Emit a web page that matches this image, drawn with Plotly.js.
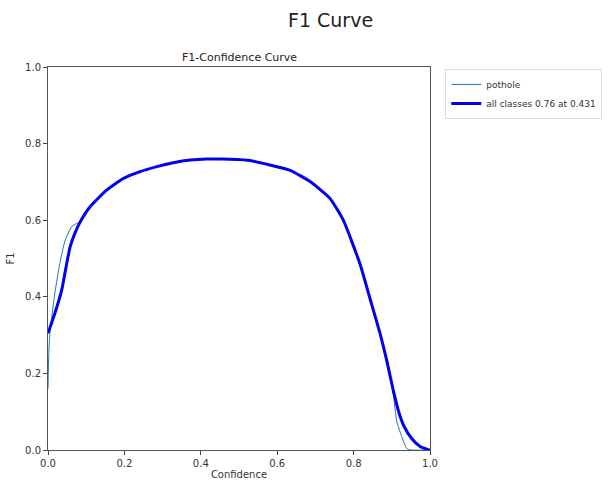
<!DOCTYPE html>
<html>
<head>
<meta charset="utf-8">
<script src="https://cdn.plot.ly/plotly-3.0.1.min.js"></script>
<style>html,body{margin:0;padding:0;background:#fff;}#chart{width:614px;height:484px;}</style>
</head>
<body>
<div id="chart"></div>
<script>
// Data
const allConf = [0, 0.018, 0.036, 0.049, 0.058, 0.07, 0.084, 0.11, 0.154, 0.197, 0.241, 0.285, 0.328, 0.372, 0.415, 0.431, 0.476, 0.529, 0.581, 0.634, 0.686, 0.738, 0.773, 0.817, 0.843, 0.869, 0.888, 0.904, 0.918, 0.932, 0.952, 0.974, 0.995, 1.0];
const allF1   = [0.305, 0.357, 0.418, 0.487, 0.531, 0.565, 0.595, 0.635, 0.679, 0.709, 0.727, 0.740, 0.750, 0.757, 0.760, 0.760, 0.759, 0.756, 0.744, 0.730, 0.701, 0.657, 0.600, 0.485, 0.395, 0.305, 0.228, 0.155, 0.10, 0.062, 0.03, 0.009, 0.001, 0.0];

const potConf = [0, 0.002, 0.005, 0.018, 0.031, 0.045, 0.062, 0.084, 0.11, 0.154, 0.197, 0.241, 0.285, 0.328, 0.372, 0.415, 0.431, 0.476, 0.529, 0.581, 0.634, 0.686, 0.738, 0.773, 0.817, 0.843, 0.869, 0.888, 0.904, 0.913, 0.926, 0.939, 0.95, 1.0];
const potF1   = [0.16, 0.25, 0.305, 0.41, 0.487, 0.548, 0.583, 0.597, 0.635, 0.679, 0.709, 0.727, 0.740, 0.750, 0.757, 0.760, 0.760, 0.759, 0.756, 0.744, 0.730, 0.701, 0.657, 0.600, 0.485, 0.395, 0.305, 0.228, 0.145, 0.075, 0.035, 0.004, 0.0, 0.0];

const seriesNames = ['pothole', 'all classes 0.76 at 0.431'];
const tickVals = [0, 0.2, 0.4, 0.6, 0.8, 1.0];
const tickText = ['0.0', '0.2', '0.4', '0.6', '0.8', '1.0'];

const traces = [
  {x: potConf, y: potF1, name: seriesNames[0], mode: 'lines', line: {color: '#1f77b4', width: 1, shape: 'spline', smoothing: 0.5}},
  {x: allConf, y: allF1, name: seriesNames[1], mode: 'lines', line: {color: '#0000ee', width: 3, shape: 'spline', smoothing: 0.5}}
];

const axisCommon = {
  range: [0, 1], tickvals: tickVals, ticktext: tickText,
  ticks: 'outside', ticklen: 4, tickwidth: 1, tickcolor: '#444',
  showline: true, linecolor: '#555', linewidth: 1, mirror: true,
  showgrid: false, zeroline: false,
  tickfont: {size: 10, color: '#333'}
};

const layout = {
  width: 614, height: 484,
  paper_bgcolor: '#fff', plot_bgcolor: '#fff',
  font: {family: 'DejaVu Sans, sans-serif', color: '#222'},
  margin: {l: 48, r: 184, t: 67, b: 34, autoexpand: false},
  xaxis: Object.assign({}, axisCommon, {title: {text: 'Confidence', font: {size: 10, color: '#333'}, standoff: 2}}),
  yaxis: Object.assign({}, axisCommon, {title: {text: 'F1', font: {size: 10, color: '#333'}, standoff: 8}}),
  showlegend: true,
  legend: {x: 1.04, y: 0.995, xanchor: 'left', yanchor: 'top', bgcolor: '#fff', bordercolor: '#ddd', borderwidth: 1, font: {size: 9, color: '#333'}, tracegroupgap: 0, itemwidth: 30},
  annotations: [
    {text: 'F1 Curve', xref: 'paper', yref: 'paper', x: (330 - 48) / 382, y: (450 - 20) / 383, xanchor: 'center', yanchor: 'middle', showarrow: false, font: {size: 19, color: '#222'}},
    {text: 'F1-Confidence Curve', xref: 'paper', yref: 'paper', x: 0.5, y: (450 - 57) / 383, xanchor: 'center', yanchor: 'middle', showarrow: false, font: {size: 11, color: '#222'}}
  ]
};

Plotly.newPlot('chart', traces, layout, {displayModeBar: false, staticPlot: true});
</script>
</body>
</html>
